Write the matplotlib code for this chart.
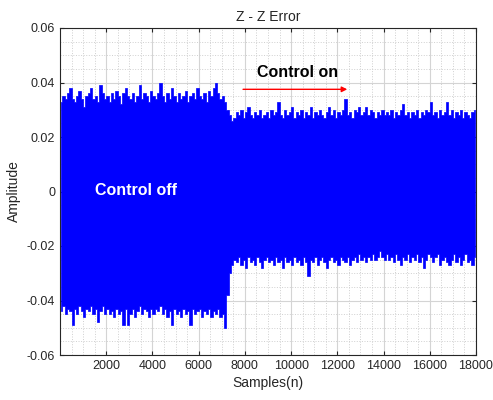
import numpy as np
import matplotlib
matplotlib.use('Agg')
import matplotlib.pyplot as plt
from matplotlib.ticker import MultipleLocator

# peak envelope of the error signal, every 100 samples
sample_step = 100
upper_off = [0.033, 0.035, 0.034, 0.036, 0.038, 0.034, 0.033, 0.035, 0.037, 0.034,
             0.031, 0.035, 0.036, 0.038, 0.034, 0.035, 0.033, 0.039, 0.036, 0.034,
             0.035, 0.033, 0.036, 0.034, 0.037, 0.035, 0.032, 0.036, 0.038, 0.035,
             0.034, 0.036, 0.033, 0.035, 0.039, 0.034, 0.036, 0.035, 0.033, 0.037,
             0.035, 0.034, 0.036, 0.040, 0.035, 0.033, 0.036, 0.034, 0.038, 0.035,
             0.033, 0.036, 0.034, 0.035, 0.037, 0.033, 0.035, 0.036, 0.034, 0.038,
             0.035, 0.034, 0.036, 0.033, 0.037, 0.035, 0.038, 0.040, 0.036, 0.034,
             0.035, 0.033]
lower_off = [-0.044, -0.042, -0.045, -0.043, -0.044, -0.049, -0.043, -0.045, -0.042, -0.044,
             -0.046, -0.043, -0.044, -0.042, -0.045, -0.043, -0.048, -0.044, -0.042, -0.045,
             -0.043, -0.045, -0.044, -0.046, -0.043, -0.045, -0.044, -0.049, -0.043, -0.049,
             -0.045, -0.043, -0.046, -0.044, -0.042, -0.045, -0.043, -0.044, -0.046, -0.043,
             -0.045, -0.043, -0.044, -0.042, -0.045, -0.043, -0.046, -0.044, -0.049, -0.043,
             -0.045, -0.044, -0.046, -0.043, -0.045, -0.044, -0.049, -0.043, -0.045, -0.044,
             -0.043, -0.046, -0.044, -0.045, -0.043, -0.046, -0.044, -0.045, -0.043, -0.046,
             -0.045, -0.050]
upper_on = [0.030, 0.028, 0.026, 0.027, 0.029, 0.028, 0.030, 0.027, 0.029, 0.031,
            0.028, 0.027, 0.029, 0.028, 0.030, 0.027, 0.028, 0.029, 0.027, 0.030,
            0.028, 0.029, 0.033, 0.028, 0.027, 0.030, 0.028, 0.029, 0.031, 0.027,
            0.029, 0.028, 0.030, 0.027, 0.029, 0.028, 0.031, 0.027, 0.029, 0.028,
            0.030, 0.028, 0.027, 0.029, 0.031, 0.028, 0.030, 0.027, 0.029, 0.028,
            0.030, 0.034, 0.028, 0.029, 0.027, 0.030, 0.029, 0.031, 0.028, 0.029,
            0.031, 0.028, 0.030, 0.029, 0.027, 0.029, 0.028, 0.030, 0.028, 0.029,
            0.028, 0.030, 0.027, 0.029, 0.028, 0.030, 0.032, 0.028, 0.029, 0.027,
            0.029, 0.028, 0.030, 0.027, 0.029, 0.028, 0.030, 0.029, 0.033, 0.028,
            0.029, 0.027, 0.030, 0.028, 0.029, 0.033, 0.028, 0.030, 0.027, 0.029,
            0.028, 0.030, 0.027, 0.029, 0.028, 0.027, 0.029, 0.030]
lower_on = [-0.038, -0.030, -0.027, -0.025, -0.026, -0.024, -0.027, -0.025, -0.028, -0.024,
            -0.026, -0.025, -0.027, -0.024, -0.026, -0.028, -0.025, -0.024, -0.026, -0.025,
            -0.027, -0.024, -0.026, -0.025, -0.028, -0.024, -0.026, -0.025, -0.027, -0.024,
            -0.026, -0.025, -0.027, -0.024, -0.026, -0.031, -0.025, -0.026, -0.024, -0.027,
            -0.025, -0.024, -0.026, -0.028, -0.025, -0.024, -0.026, -0.025, -0.027, -0.024,
            -0.025, -0.026, -0.024, -0.027, -0.025, -0.024, -0.026, -0.023, -0.025, -0.024,
            -0.026, -0.024, -0.025, -0.023, -0.025, -0.024, -0.022, -0.024, -0.025, -0.023,
            -0.025, -0.024, -0.026, -0.023, -0.025, -0.027, -0.024, -0.025, -0.023, -0.026,
            -0.024, -0.025, -0.023, -0.026, -0.024, -0.028, -0.025, -0.023, -0.024, -0.026,
            -0.024, -0.023, -0.027, -0.025, -0.024, -0.026, -0.027, -0.025, -0.023, -0.026,
            -0.024, -0.027, -0.025, -0.023, -0.026, -0.025, -0.027, -0.024]
n_samples = 18000
x_ticks = [2000, 4000, 6000, 8000, 10000, 12000, 14000, 16000, 18000]
y_ticks = [-0.06, -0.04, -0.02, 0, 0.02, 0.04, 0.06]

upper = np.array(upper_off + upper_on)
lower = np.array(lower_off + lower_on)
samples = np.arange(len(upper)) * sample_step + sample_step / 2

plt.rcParams['font.family'] = ['Liberation Sans', 'DejaVu Sans']

fig = plt.figure(figsize=(4.93, 4.0), dpi=100)
ax = fig.add_axes([0.1217, 0.1125, 0.8438, 0.8175])

ax.fill_between(samples, lower, upper, step='mid', color='#0000ff', linewidth=0.5,
                edgecolor='#0000ff', zorder=3)

ax.set_xlim(0, n_samples)
ax.set_ylim(-0.06, 0.06)
ax.set_xticks(x_ticks)
ax.set_xticklabels([str(t) for t in x_ticks])
ax.set_yticks(y_ticks)
ax.set_yticklabels(['-0.06', '-0.04', '-0.02', '0', '0.02', '0.04', '0.06'])
ax.xaxis.set_minor_locator(MultipleLocator(500))
ax.yaxis.set_minor_locator(MultipleLocator(0.005))
ax.grid(which='major', color='#d4d4d4', linestyle='-', linewidth=0.8, zorder=0)
ax.grid(which='minor', color='#cfcfcf', linestyle=':', linewidth=0.7, zorder=0)
ax.set_axisbelow(True)
ax.tick_params(which='both', direction='in', top=True, right=True, colors='#262626',
               labelsize=9)
ax.tick_params(which='minor', length=0)
ax.tick_params(which='major', length=3)
for s in ax.spines.values():
    s.set_color('#262626')
    s.set_linewidth(0.8)

ax.set_title('Z - Z Error', fontsize=10, color='#262626', pad=5)
ax.set_xlabel('Samples(n)', fontsize=10, color='#262626', labelpad=3)
ax.set_ylabel('Amplitude', fontsize=10, color='#262626', labelpad=4)

ax.text(10280, 0.0435, 'Control on', fontsize=11.5, fontweight='bold',
        ha='center', va='center', color='black', zorder=5)
ax.annotate('', xy=(12550, 0.0375), xytext=(7800, 0.0375),
            arrowprops=dict(arrowstyle='-|>', color='red', lw=1, mutation_scale=8), zorder=5)
ax.text(3290, 0.0002, 'Control off', fontsize=11.5, fontweight='bold',
        ha='center', va='center', color='white', zorder=5)

fig.savefig('out.png', dpi=100)
